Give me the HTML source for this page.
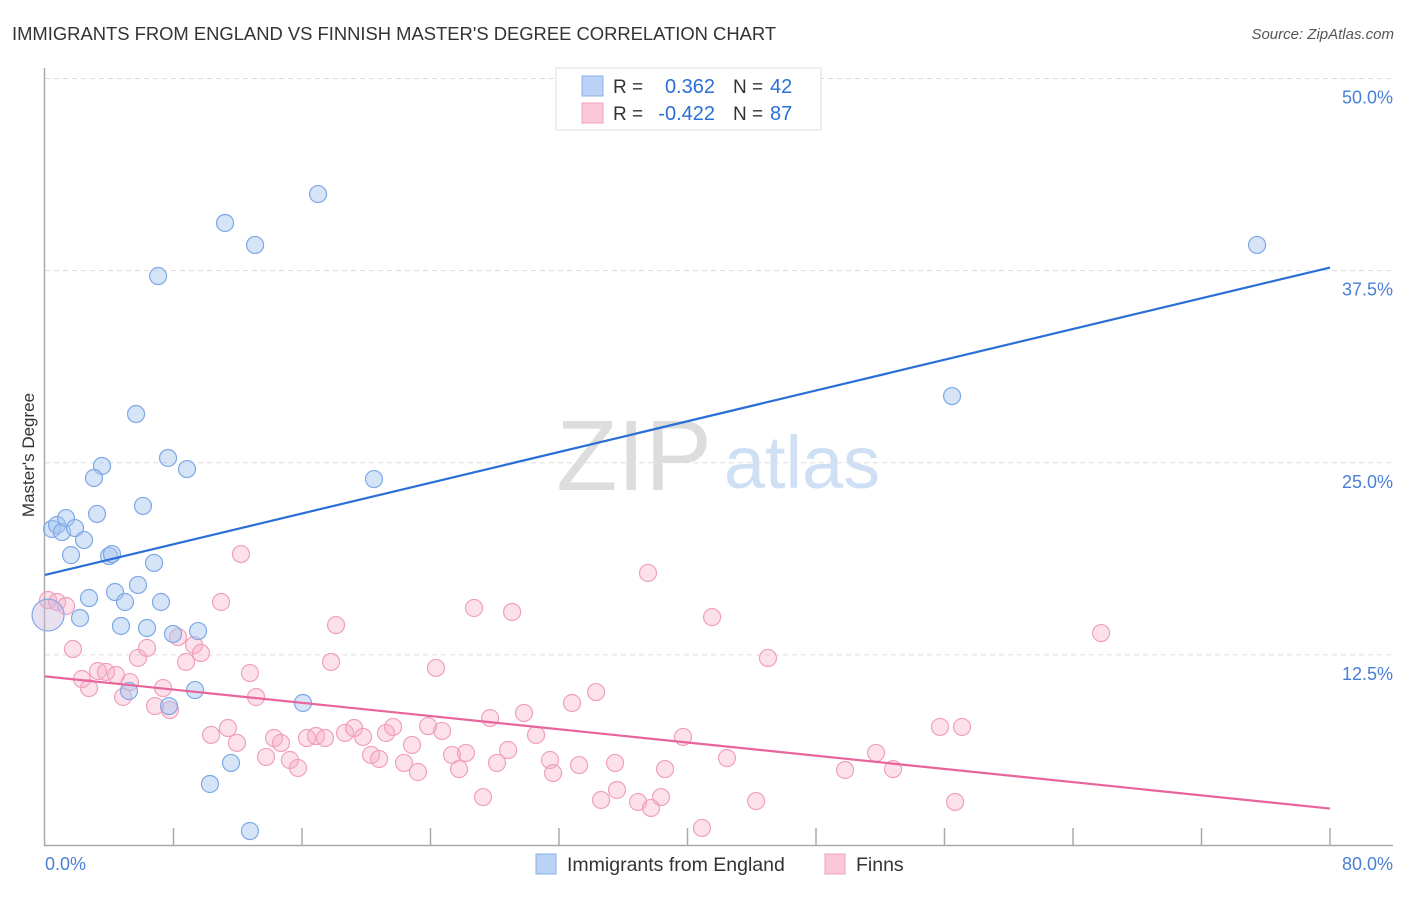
<!DOCTYPE html>
<html><head><meta charset="utf-8"><style>
body{margin:0;background:#fff;font-family:"Liberation Sans",sans-serif;}
svg text{font-family:"Liberation Sans",sans-serif;}
</style></head><body>
<svg id="chart" width="1406" height="892" xmlns="http://www.w3.org/2000/svg">
<text x="12" y="40" font-size="18.4" fill="#333">IMMIGRANTS FROM ENGLAND VS FINNISH MASTER'S DEGREE CORRELATION CHART</text>
<text x="1394" y="39" font-size="15" fill="#555" text-anchor="end" font-style="italic">Source: ZipAtlas.com</text>
<text transform="translate(34,455) rotate(-90)" font-size="17" fill="#333" text-anchor="middle">Master's Degree</text>
<g>
<text x="634" y="490" font-size="100" font-family="Liberation Serif,serif" fill="#ddd" text-anchor="middle">ZIP</text>
<text x="802" y="488" font-size="74" fill="#cfe0f5" text-anchor="middle">atlas</text>
</g>
<g id="grid"></g>
<g id="axes"></g>
<g id="pts"></g>
<g id="lines"></g>
<g>
<rect x="556" y="68" width="265" height="62" fill="#fff" stroke="#ddd"/>
<rect x="582" y="76" width="21" height="20" fill="#b9d2f5" stroke="#8ab0e8"/>
<rect x="582" y="103" width="21" height="20" fill="#fbc8d8" stroke="#f0a0bd"/>
<text x="613" y="93" font-size="19" fill="#333">R =</text>
<text x="715" y="93" font-size="20" fill="#2a6fd6" text-anchor="end">0.362</text>
<text x="733" y="93" font-size="19" fill="#333">N =</text>
<text x="770" y="93" font-size="20" fill="#2a6fd6">42</text>
<text x="613" y="120" font-size="19" fill="#333">R =</text>
<text x="715" y="120" font-size="20" fill="#2a6fd6" text-anchor="end">-0.422</text>
<text x="733" y="120" font-size="19" fill="#333">N =</text>
<text x="770" y="120" font-size="20" fill="#2a6fd6">87</text>
</g>
<g>
<rect x="536" y="854" width="20" height="20" fill="#b9d2f5" stroke="#8ab0e8"/>
<text x="567" y="871" font-size="19.5" fill="#333">Immigrants from England</text>
<rect x="825" y="854" width="20" height="20" fill="#fbc8d8" stroke="#f0a0bd"/>
<text x="856" y="871" font-size="19.5" fill="#333">Finns</text>
</g>
</svg>
<script>
const yTicks=[12.5,25.0,37.5,50.0];
const xTickLabels=["0.0%","80.0%"];
const blueX=[0.44,0.75,1.06,1.31,1.62,1.87,2.43,2.18,2.74,3.24,3.55,3.05,3.99,4.17,4.36,4.73,4.98,5.23,5.67,5.79,6.10,6.35,6.79,7.04,7.22,7.66,7.97,8.84,9.34,9.53,7.72,10.27,11.21,11.58,12.76,13.08,16.06,17.00,20.48,56.47,75.46,0.19];
const blueY=[20.69,20.95,20.49,21.40,18.99,20.75,19.97,14.90,16.20,21.67,24.79,24.01,18.93,19.06,16.59,14.38,15.94,10.15,28.17,17.05,22.19,14.25,18.48,37.15,15.94,25.31,13.86,24.59,10.21,14.05,9.17,4.10,40.60,5.47,1.04,39.17,9.37,42.48,23.94,29.34,39.17,15.09];
const pinkX=[0.19,0.75,1.31,1.74,2.30,2.74,3.30,3.80,4.42,4.86,5.29,5.79,6.35,6.85,7.35,7.78,8.28,8.78,9.28,9.71,10.34,10.96,11.39,11.95,12.20,12.76,13.14,13.76,14.26,14.69,15.25,15.75,16.31,16.87,17.43,17.81,18.12,18.68,19.24,19.80,20.30,20.80,21.23,21.67,22.35,22.85,23.22,23.85,24.34,24.72,25.34,25.78,26.21,26.71,27.27,27.71,28.14,28.83,29.08,29.82,30.57,31.44,31.63,32.81,33.25,34.31,34.62,35.49,35.61,36.92,37.54,37.73,38.35,38.60,39.72,40.90,41.53,42.46,44.27,45.01,49.81,51.74,52.80,55.72,56.66,57.09,65.75];
const pinkY=[16.07,15.94,15.68,12.88,10.93,10.34,11.45,11.39,11.19,9.76,10.73,12.30,12.95,9.17,10.34,8.91,13.66,12.04,13.14,12.62,7.29,15.94,7.74,6.77,19.06,11.32,9.76,5.86,7.09,6.77,5.66,5.14,7.09,7.22,7.09,12.04,14.44,7.42,7.74,7.16,5.99,5.73,7.42,7.81,5.47,6.64,4.88,7.87,11.65,7.55,5.99,5.07,6.12,15.55,3.25,8.39,5.47,6.31,15.29,8.72,7.29,5.66,4.81,9.37,5.33,10.08,3.06,5.47,3.71,2.93,17.83,2.54,3.25,5.07,7.16,1.24,14.96,5.79,2.99,12.30,5.01,6.12,5.07,7.81,2.93,7.81,13.92];
const blueLine=[17.7,37.7];
const pinkLine=[11.1,2.5];
const NS="http://www.w3.org/2000/svg";
const X0=45,X1=1330,Y0=847,PPY=15.37;
const sx=v=>X0+v/80*(X1-X0);
const sy=v=>Y0-v*PPY;
function mk(tag,attrs,parent){const e=document.createElementNS(NS,tag);for(const k in attrs)e.setAttribute(k,attrs[k]);document.getElementById(parent).appendChild(e);return e;}
yTicks.forEach(t=>{
 const l=mk('line',{x1:45,x2:1393,y1:sy(t),y2:sy(t),stroke:'#ddd','stroke-dasharray':'5,4'},'grid');
 
 
 const tx=mk('text',{x:1393,y:sy(t)+25,'font-size':18,fill:'#4a7fd6','text-anchor':'end'},'grid');
 tx.textContent=t.toFixed(1)+'%';
 
 
});
const ax=mk('path',{d:'M44.5 68V845.5H1393',stroke:'#aaa',fill:'none','stroke-width':1.5},'axes');


for(let i=1;i<=10;i++){
 const t=mk('line',{x1:sx(i*8),x2:sx(i*8),y1:828,y2:845,stroke:'#aaa','stroke-width':1.5},'axes');
 
 
}
[[0,'start',45],[1,'end',1393]].forEach(([i,a,x])=>{
 const t=mk('text',{x:x,y:870,'font-size':18,fill:'#4a7fd6','text-anchor':a},'axes');
 t.textContent=xTickLabels[i];
 
 
});
pinkX.forEach((x,i)=>{
 const c=mk('circle',{cx:sx(x),cy:sy(pinkY[i]),r:8.5,fill:'rgba(246,170,196,0.35)',stroke:'#f0a0bd','stroke-width':1.2},'pts');
 
 
});
blueX.forEach((x,i)=>{
 const big=(i===blueX.length-1);
 const c=mk('circle',{cx:sx(x),cy:sy(blueY[i]),r:big?16:8.5,fill:big?'rgba(205,185,220,0.45)':'rgba(165,195,240,0.45)',stroke:'#7ea8e6','stroke-width':1.2},'pts');
 
 
});
const bl=mk('line',{x1:sx(0),y1:sy(blueLine[0]),x2:sx(80),y2:sy(blueLine[1]),stroke:'#2a6fd6','stroke-width':2.2},'lines');


const pl=mk('line',{x1:sx(0),y1:sy(pinkLine[0]),x2:sx(80),y2:sy(pinkLine[1]),stroke:'#e8649a','stroke-width':2.2},'lines');


</script>
</body></html>
